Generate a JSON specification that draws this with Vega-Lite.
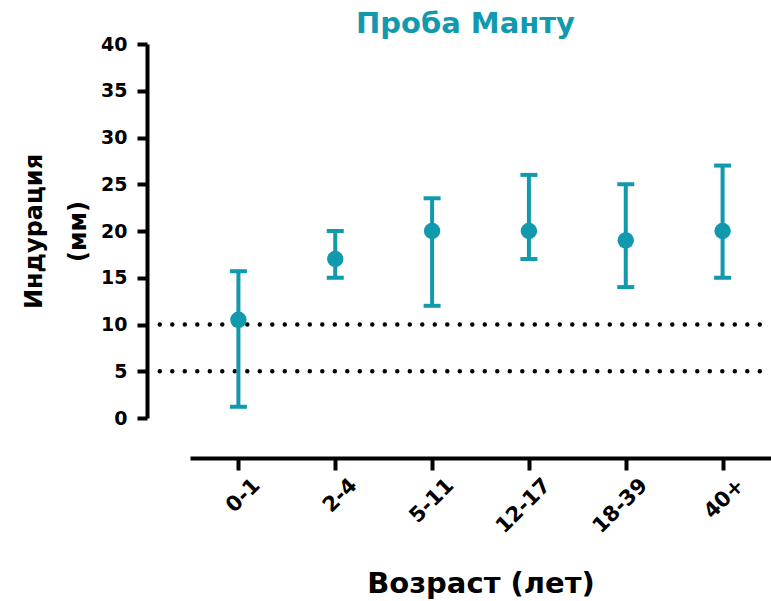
{
  "$schema": "https://vega.github.io/schema/vega-lite/v6.json",
  "autosize": "none",
  "padding": {"left": 190, "top": 44, "right": 0, "bottom": 183},
  "width": 581,
  "height": 374,
  "background": "white",
  "title": {
    "text": "Проба Манту",
    "font": "DejaVu Sans",
    "fontSize": 29,
    "fontWeight": "bold",
    "color": "#1199AE",
    "anchor": "middle",
    "dx": -15,
    "offset": -4
  },
  "config": {
    "view": {"stroke": null},
    "font": "DejaVu Sans"
  },
  "datasets": {
    "groups": [
      {"age": "0-1", "median": 10.5, "low": 1.2, "high": 15.7},
      {"age": "2-4", "median": 17, "low": 15, "high": 20},
      {"age": "5-11", "median": 20, "low": 12, "high": 23.5},
      {"age": "12-17", "median": 20, "low": 17, "high": 26},
      {"age": "18-39", "median": 19, "low": 14, "high": 25},
      {"age": "40+", "median": 20, "low": 15, "high": 27}
    ],
    "thresholds": [
      {"value": 10, "from": -0.052, "to": 1},
      {"value": 5, "from": -0.052, "to": 1}
    ]
  },
  "layer": [
    {
      "data": {"name": "thresholds"},
      "mark": {"type": "rule", "color": "black", "strokeWidth": 4.5, "strokeCap": "round", "strokeDash": [0, 12.5], "clip": false},
      "encoding": {
        "x": {"field": "from", "type": "quantitative", "scale": {"domain": [0, 1], "nice": false, "zero": false}, "axis": null},
        "x2": {"field": "to"},
        "y": {"field": "value", "type": "quantitative"}
      }
    },
    {
      "data": {"name": "groups"},
      "layer": [
        {
          "mark": {"type": "rule", "color": "#1199AE", "strokeWidth": 4},
          "encoding": {
            "x": {
              "field": "age", "type": "ordinal",
              "sort": ["0-1", "2-4", "5-11", "12-17", "18-39", "40+"],
              "scale": {"type": "point", "padding": 0.5},
              "axis": {
                "title": "Возраст (лет)",
                "titleFont": "DejaVu Sans",
                "titleFontSize": 29,
                "titleFontWeight": "bold",
                "titleColor": "black",
                "titlePadding": 33,
                "offset": 40,
                "domainColor": "black",
                "domainWidth": 4,
                "tickColor": "black",
                "tickWidth": 4,
                "tickSize": 12,
                "labelAngle": -45,
                "labelAlign": "right",
                "labelBaseline": "middle",
                "labelOffset": 18,
                "labelFont": "DejaVu Sans",
                "labelFontSize": 21,
                "labelFontWeight": "bold",
                "labelColor": "black",
                "labelPadding": 12
              }
            },
            "y": {
              "field": "low", "type": "quantitative",
              "scale": {"domain": [0, 40], "nice": false},
              "axis": {
                "title": ["Индурация", "(мм)"],
                "titleFont": "DejaVu Sans",
                "titleFontSize": 24,
                "titleFontWeight": "bold",
                "titleColor": "black",
                "titleLineHeight": 44,
                "titlePadding": 10,
                "values": [0, 5, 10, 15, 20, 25, 30, 35, 40],
                "offset": 43,
                "grid": false,
                "domainColor": "black",
                "domainWidth": 4,
                "tickColor": "black",
                "tickWidth": 4,
                "tickSize": 10,
                "labelFont": "DejaVu Sans",
                "labelFontSize": 19,
                "labelFontWeight": "bold",
                "labelColor": "black",
                "labelPadding": 10
              }
            },
            "y2": {"field": "high"}
          }
        },
        {
          "mark": {"type": "tick", "color": "#1199AE", "size": 17, "thickness": 4, "opacity": 1},
          "encoding": {
            "x": {"field": "age", "type": "ordinal", "sort": ["0-1", "2-4", "5-11", "12-17", "18-39", "40+"]},
            "y": {"field": "low", "type": "quantitative"}
          }
        },
        {
          "mark": {"type": "tick", "color": "#1199AE", "size": 17, "thickness": 4, "opacity": 1},
          "encoding": {
            "x": {"field": "age", "type": "ordinal", "sort": ["0-1", "2-4", "5-11", "12-17", "18-39", "40+"]},
            "y": {"field": "high", "type": "quantitative"}
          }
        },
        {
          "mark": {"type": "circle", "color": "#1199AE", "size": 270, "opacity": 1},
          "encoding": {
            "x": {"field": "age", "type": "ordinal", "sort": ["0-1", "2-4", "5-11", "12-17", "18-39", "40+"]},
            "y": {"field": "median", "type": "quantitative"}
          }
        }
      ]
    }
  ],
  "resolve": {"scale": {"x": "independent"}}
}
